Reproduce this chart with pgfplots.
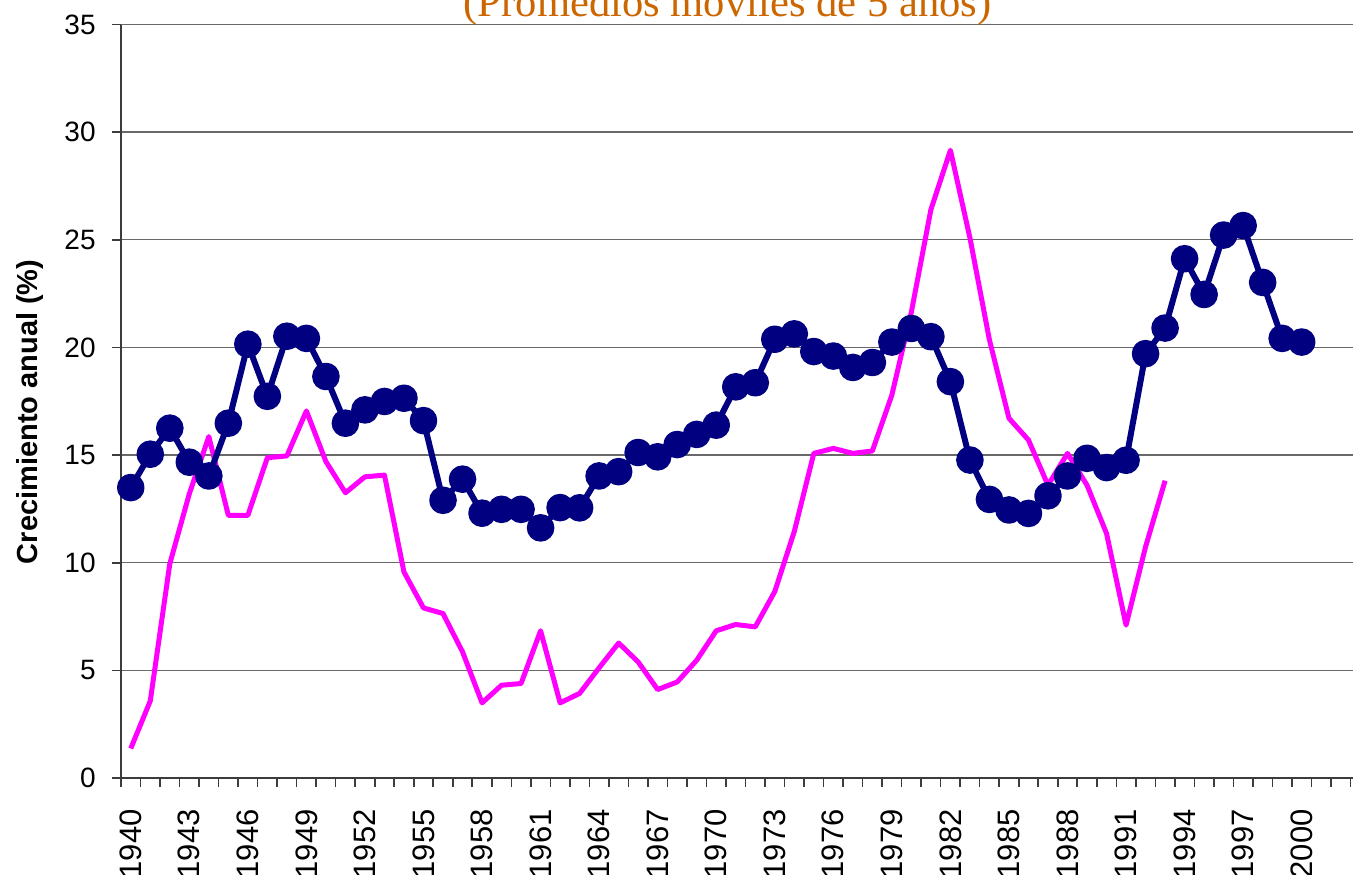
\documentclass[border=0pt]{standalone}
\usepackage{pgfplots}
\pgfplotsset{compat=1.18}
\usepackage{pgfplotstable}
\usepackage{fontspec}
\setmainfont{Liberation Sans}
\newfontfamily\seriffont{Liberation Serif}
\definecolor{navyc}{RGB}{0,0,128}
\definecolor{magc}{RGB}{255,0,255}
\definecolor{titleor}{RGB}{204,102,0}
\definecolor{gridc}{RGB}{105,105,105}
\definecolor{axc}{RGB}{60,60,60}

\pgfplotstableread{
year val
1940 13.49
1941 15.04
1942 16.25
1943 14.67
1944 14.03
1945 16.48
1946 20.15
1947 17.73
1948 20.52
1949 20.42
1950 18.65
1951 16.48
1952 17.10
1953 17.49
1954 17.64
1955 16.60
1956 12.90
1957 13.88
1958 12.30
1959 12.48
1960 12.48
1961 11.62
1962 12.56
1963 12.55
1964 14.03
1965 14.23
1966 15.12
1967 14.92
1968 15.49
1969 15.96
1970 16.39
1971 18.17
1972 18.36
1973 20.38
1974 20.63
1975 19.81
1976 19.60
1977 19.07
1978 19.30
1979 20.25
1980 20.88
1981 20.50
1982 18.41
1983 14.77
1984 12.94
1985 12.45
1986 12.29
1987 13.11
1988 14.03
1989 14.85
1990 14.42
1991 14.76
1992 19.71
1993 20.90
1994 24.12
1995 22.46
1996 25.22
1997 25.66
1998 23.02
1999 20.42
2000 20.25
}\navytable

\pgfplotstableread{
year val
1940 1.37
1941 3.58
1942 9.95
1943 13.20
1944 15.86
1945 12.20
1946 12.20
1947 14.88
1948 14.96
1949 17.05
1950 14.70
1951 13.25
1952 13.99
1953 14.07
1954 9.57
1955 7.90
1956 7.64
1957 5.86
1958 3.49
1959 4.31
1960 4.39
1961 6.84
1962 3.49
1963 3.93
1964 5.12
1965 6.27
1966 5.39
1967 4.11
1968 4.46
1969 5.47
1970 6.84
1971 7.13
1972 7.02
1973 8.66
1974 11.45
1975 15.08
1976 15.31
1977 15.08
1978 15.19
1979 17.79
1980 21.65
1981 26.40
1982 29.16
1983 25.09
1984 20.35
1985 16.71
1986 15.70
1987 13.60
1988 15.08
1989 13.60
1990 11.36
1991 7.10
1992 10.74
1993 13.81
}\magtable

\begin{document}
\begin{tikzpicture}
\begin{axis}[
  at={(60.5pt,48pt)}, anchor=south west,
  scale only axis, width=616pt, height=376.75pt,
  xmin=1939.5, xmax=2002.63, ymin=0, ymax=35,
  axis x line*=bottom, axis y line*=left,
  axis line style={axc, line width=0.9pt},
  ytick={0,5,...,35},
  ymajorgrids, grid style={gridc, line width=0.7pt},
  tick align=outside,
  major tick length=4.5pt,
  tick style={axc, line width=0.8pt},
  xtick={1939.5,1940.5,...,2002.5},
  xticklabels={},
  extra x ticks={1940,1943,...,2000},
  extra x tick style={major tick length=0pt, grid=none},
  /pgf/number format/assume math mode=true,
  /pgf/number format/set thousands separator={},
  xticklabel style={yshift=-15.5pt, rotate=90, anchor=east, inner sep=0pt,
    font=\fontsize{15.5}{16}\selectfont},
  yticklabel style={anchor=east, inner sep=0pt, xshift=-8pt,
    font=\fontsize{14}{16}\selectfont},
  ylabel={Crecimiento anual (\%)},
  ylabel style={font=\bfseries\fontsize{14.5}{16}\selectfont,
    at={(axis description cs:-0.0739,0.486)}, anchor=center},
  line join=round,
]
\addplot[magc, line width=2.5pt, no marks] table[x=year, y=val] {\magtable};
\addplot[navyc, line width=3pt, mark=*, mark size=5.4pt,
  mark options={solid, fill=navyc, draw=none}] table[x=year, y=val] {\navytable};
\end{axis}
\node[anchor=base, text=titleor, font=\seriffont\fontsize{21.3}{24}\selectfont]
  at (363.75pt,428.5pt) {(Promedios móviles de 5 años)};
\pgfresetboundingbox
\path[use as bounding box] (0,0) rectangle (676.5pt,437pt);
\end{tikzpicture}
\end{document}
